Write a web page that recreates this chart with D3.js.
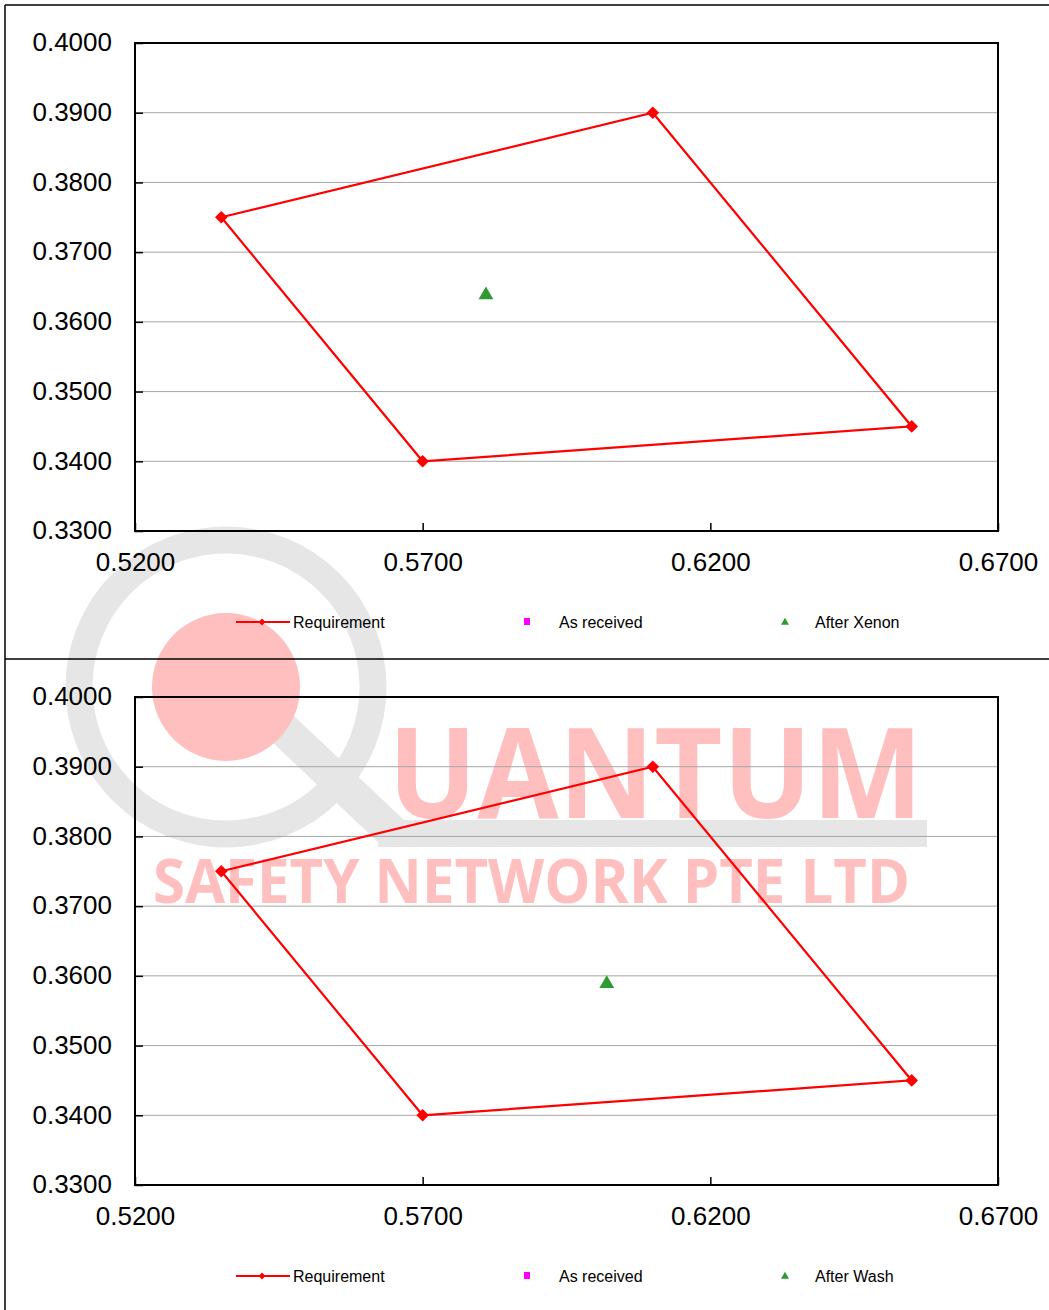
<!DOCTYPE html>
<html>
<head>
<meta charset="utf-8">
<script src="https://cdn.jsdelivr.net/npm/d3@7"></script>
<style>
body{margin:0;background:#fff;}
svg{display:block;font-family:"Liberation Sans",Arial,sans-serif;}
</style>
</head>
<body>
<div class="charts"></div>
<script>
// chromaticity limits (x, y) – closed polygon
var reqX=[0.535,0.610,0.655,0.570,0.535];
var reqY=[0.375,0.390,0.345,0.340,0.375];
// measured points
var xenonX=[0.581];
var xenonY=[0.364];
var washX=[0.602];
var washY=[0.359];
var receivedX=[];
var receivedY=[];
// axes
var xTicks=[0.52,0.57,0.62,0.67];
var yTicks=[0.33,0.34,0.35,0.36,0.37,0.38,0.39,0.40];
var legendNames=['Requirement','As received'];

var width=1049;
var height=1310;
var svg=d3.select('div.charts')
		.append('svg')
		.attr('width',width)
		.attr('height',height);

//水印
var wm=svg.append('g').attr('class','watermark');
wm.append('circle')
	.attr('cx',226).attr('cy',687).attr('r',147)
	.attr('fill','none')
	.attr('stroke','#e6e6e6')
	.attr('stroke-width',27);
wm.append('line')
	.attr('x1',282).attr('y1',728)
	.attr('x2',392).attr('y2',832)
	.attr('stroke','#e6e6e6')
	.attr('stroke-width',34);
wm.append('rect')
	.attr('x',378).attr('y',820)
	.attr('width',549).attr('height',27)
	.attr('fill','#e6e6e6');
wm.append('circle')
	.attr('cx',226).attr('cy',687).attr('r',74)
	.attr('fill','#ffbfbf');
wm.append('text')
	.attr('x',388).attr('y',818)
	.attr('font-family','"Open Sans",sans-serif')
	.attr('font-weight','bold')
	.attr('font-size','126px')
	.attr('textLength',535)
	.attr('lengthAdjust','spacingAndGlyphs')
	.attr('fill','#ffbfbf')
	.text('UANTUM');
wm.append('text')
	.attr('x',153).attr('y',903)
	.attr('font-family','"Open Sans",sans-serif')
	.attr('font-weight','bold')
	.attr('font-size','60px')
	.attr('textLength',757)
	.attr('lengthAdjust','spacingAndGlyphs')
	.attr('fill','#ffbfbf')
	.text('SAFETY NETWORK PTE LTD');

//外框
svg.append('line').attr('x1',5).attr('y1',5).attr('x2',width).attr('y2',5)
	.attr('stroke','#000').attr('stroke-width',1.5);
svg.append('line').attr('x1',5).attr('y1',5).attr('x2',5).attr('y2',height)
	.attr('stroke','#000').attr('stroke-width',1.5);
svg.append('line').attr('x1',5).attr('y1',659).attr('x2',width).attr('y2',659)
	.attr('stroke','#000').attr('stroke-width',1.5);

function scatterChart(top,ptX,ptY,ptName){
	var pw=863;
	var ph=488;
	var g=svg.append('g')
		.attr('transform','translate('+135+','+top+')');
	var xScale=d3.scaleLinear().domain([0.52,0.67]).range([0,pw]);
	var yScale=d3.scaleLinear().domain([0.33,0.40]).range([ph,0]);

	//网格线
	g.selectAll('.grid')
		.data(yTicks.slice(1,-1))
		.enter()
		.append('line')
		.attr('class','grid')
		.attr('x1',0).attr('x2',pw)
		.attr('y1',function(d){return yScale(d);})
		.attr('y2',function(d){return yScale(d);})
		.attr('stroke','#a6a6a6')
		.attr('stroke-width',1);

	var xAxis=g.append('g')
		.attr('transform','translate(0,'+ph+')')
		.call(d3.axisBottom(xScale)
			.tickValues(xTicks)
			.tickSize(-8)
			.tickPadding(22)
			.tickFormat(d3.format('.4f')));
	var yAxis=g.append('g')
		.call(d3.axisLeft(yScale)
			.tickValues(yTicks)
			.tickSize(-8)
			.tickPadding(23)
			.tickFormat(d3.format('.4f')));
	[xAxis,yAxis].forEach(function(a){
		a.select('.domain').remove();
		a.selectAll('line').attr('stroke','#000').attr('stroke-width',1.5);
		a.selectAll('text')
			.attr('font-family','"Liberation Sans",Arial,sans-serif')
			.attr('font-size','26px')
			.attr('fill','#000');
	});
	yAxis.selectAll('text').attr('dy','0.3em');

	g.append('rect')
		.attr('width',pw).attr('height',ph)
		.attr('fill','none')
		.attr('stroke','#000')
		.attr('stroke-width',2);

	//要求范围
	var pts=reqX.map(function(x,i){return [x,reqY[i]];});
	g.append('path')
		.datum(pts)
		.attr('d',d3.line()
			.x(function(d){return xScale(d[0]);})
			.y(function(d){return yScale(d[1]);}))
		.attr('fill','none')
		.attr('stroke','#ff0000')
		.attr('stroke-width',2.2);
	g.selectAll('.req')
		.data(pts.slice(0,-1))
		.enter()
		.append('path')
		.attr('class','req')
		.attr('d',d3.symbol(d3.symbolSquare,80))
		.attr('transform',function(d){return 'translate('+xScale(d[0])+','+yScale(d[1])+') rotate(45)';})
		.attr('fill','#ff0000');

	g.selectAll('.rec')
		.data(receivedX)
		.enter()
		.append('rect')
		.attr('x',function(d){return xScale(d)-4;})
		.attr('y',function(d,i){return yScale(receivedY[i])-4;})
		.attr('width',8).attr('height',8)
		.attr('fill','#ff00ff');

	g.selectAll('.after')
		.data(ptX)
		.enter()
		.append('path')
		.attr('class','after')
		.attr('d',d3.symbol(d3.symbolTriangle,95))
		.attr('transform',function(d,i){return 'translate('+xScale(d)+','+(yScale(ptY[i])+1)+')';})
		.attr('fill','#2e9b32');

	//图例
	var ly=top+579;
	var lg=svg.append('g').attr('font-size','16px').attr('fill','#000');
	lg.append('line')
		.attr('x1',236).attr('x2',290)
		.attr('y1',ly).attr('y2',ly)
		.attr('stroke','#ff0000').attr('stroke-width',2);
	lg.append('path')
		.attr('d',d3.symbol(d3.symbolSquare,24))
		.attr('transform','translate(262,'+ly+') rotate(45)')
		.attr('fill','#ff0000');
	lg.append('rect')
		.attr('x',524).attr('y',ly-4)
		.attr('width',6).attr('height',7)
		.attr('fill','#ff00ff');
	lg.append('path')
		.attr('d',d3.symbol(d3.symbolTriangle,28))
		.attr('transform','translate(785,'+(ly+0.5)+')')
		.attr('fill','#2e9b32');
	var names=legendNames.concat([ptName]);
	var tx=[293,559,815];
	lg.selectAll('.ltext')
		.data(names)
		.enter()
		.append('text')
		.attr('x',function(d,i){return tx[i];})
		.attr('y',ly)
		.attr('dy','0.36em')
		.text(function(d){return d;});
}

scatterChart(43,xenonX,xenonY,'After Xenon');
scatterChart(697,washX,washY,'After Wash');
</script>
</body>
</html>
